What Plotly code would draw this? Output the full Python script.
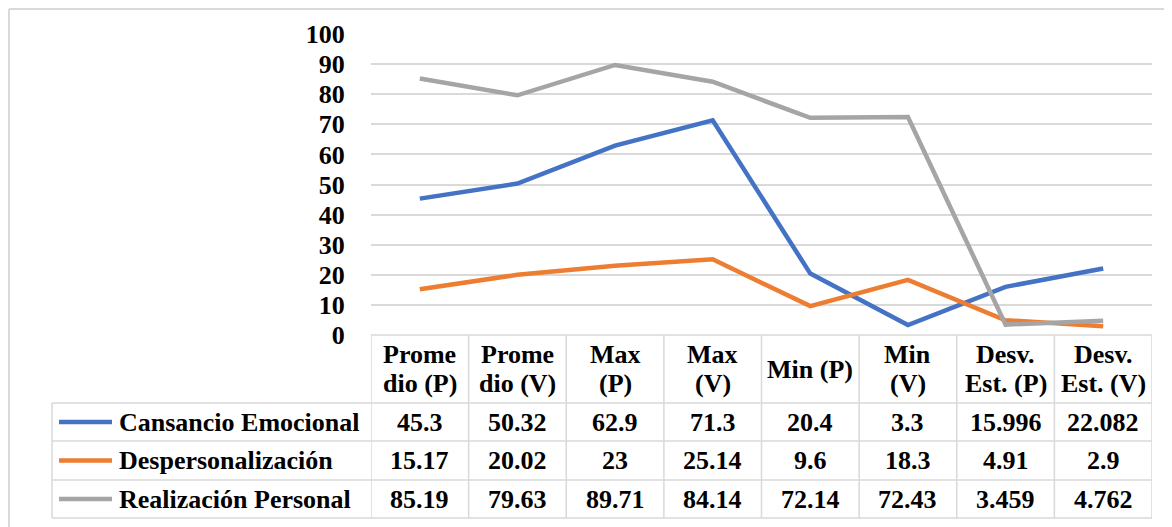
import plotly.graph_objects as go

categories = ["Promedio (P)", "Promedio (V)", "Max (P)", "Max (V)",
              "Min (P)", "Min (V)", "Desv. Est. (P)", "Desv. Est. (V)"]
header_labels = ["Prome\ndio (P)", "Prome\ndio (V)", "Max\n(P)", "Max\n(V)",
                 "Min (P)", "Min\n(V)", "Desv.\nEst. (P)", "Desv.\nEst. (V)"]
series_names = ["Cansancio Emocional", "Despersonalización", "Realización Personal"]
cansancio = [45.3, 50.32, 62.9, 71.3, 20.4, 3.3, 15.996, 22.082]
despers = [15.17, 20.02, 23, 25.14, 9.6, 18.3, 4.91, 2.9]
realizacion = [85.19, 79.63, 89.71, 84.14, 72.14, 72.43, 3.459, 4.762]
colors = ["#4472C4", "#ED7D31", "#A5A5A5"]
y_ticks = list(range(0, 101, 10))

W, H = 1172, 527
OFF = 8  # page body margin offset
FONT = "Liberation Serif, Times New Roman, serif"
GRID = "#D9D9D9"

def px(x):
    return (x - OFF) / W

def py(y):
    return 1 - (y - OFF) / H

x_left, x_right = 371, 1152
y_top, y_zero = 34, 335
leg_left = 52
row_edges = [403, 441, 480, 518]

fig = go.Figure()
idx = list(range(len(categories)))
for name, vals, col in zip(series_names, [cansancio, despers, realizacion], colors):
    fig.add_trace(go.Scatter(x=idx, y=vals, mode="lines", name=name,
                             line=dict(color=col, width=4.5), showlegend=False,
                             hoverinfo="skip"))

shapes = []
annots = []
# outer chart border (top and left)
shapes.append(dict(type="line", xref="paper", yref="paper",
                   x0=px(9), x1=1, y0=py(9), y1=py(9), line=dict(color=GRID, width=2)))
shapes.append(dict(type="line", xref="paper", yref="paper",
                   x0=px(9), x1=px(9), y0=0, y1=py(9), line=dict(color=GRID, width=2)))
# table top line
shapes.append(dict(type="line", xref="paper", yref="paper",
                   x0=px(x_left), x1=px(x_right), y0=py(y_zero), y1=py(y_zero),
                   line=dict(color=GRID, width=1.5)))
for ry in row_edges:
    shapes.append(dict(type="line", xref="paper", yref="paper",
                       x0=px(leg_left), x1=px(x_right), y0=py(ry), y1=py(ry),
                       line=dict(color=GRID, width=1.5)))
for k in range(len(categories) + 1):
    xb = k - 0.5
    shapes.append(dict(type="line", xref="x", yref="paper",
                       x0=xb, x1=xb, y0=py(row_edges[-1]), y1=py(y_zero),
                       line=dict(color=GRID, width=1.5)))
shapes.append(dict(type="line", xref="paper", yref="paper",
                   x0=px(leg_left), x1=px(leg_left), y0=py(row_edges[-1]), y1=py(row_edges[0]),
                   line=dict(color=GRID, width=1.5)))

font = dict(family=FONT, size=26, color="black", weight="bold")

for i, lab in enumerate(header_labels):
    parts = lab.split("\n")
    if len(parts) == 1:
        annots.append(dict(x=i, y=py(369), xref="x", yref="paper", text=parts[0],
                           showarrow=False, font=font, xanchor="center", yanchor="middle"))
    else:
        for part, yy in zip(parts, [354, 383]):
            annots.append(dict(x=i, y=py(yy), xref="x", yref="paper", text=part,
                               showarrow=False, font=font, xanchor="center", yanchor="middle"))

for r, (name, vals, col) in enumerate(zip(series_names, [cansancio, despers, realizacion], colors)):
    yc = (row_edges[r] + row_edges[r + 1]) / 2
    shapes.append(dict(type="line", xref="paper", yref="paper",
                       x0=px(59), x1=px(112), y0=py(yc), y1=py(yc),
                       line=dict(color=col, width=4.5)))
    annots.append(dict(x=px(117), y=py(yc), xref="paper", yref="paper", text=name,
                       showarrow=False, font=font, xanchor="left", yanchor="middle"))
    for i, v in enumerate(vals):
        annots.append(dict(x=i, y=py(yc), xref="x", yref="paper", text=f"{v:g}",
                           showarrow=False, font=font, xanchor="center", yanchor="middle"))

fig.update_layout(
    width=W, height=H, autosize=False,
    margin=dict(l=0, r=0, t=0, b=0, autoexpand=False),
    paper_bgcolor="white", plot_bgcolor="white",
    shapes=shapes, annotations=annots,
    xaxis=dict(domain=[px(x_left), px(x_right)], range=[-0.5, len(categories) - 0.5],
               showgrid=False, zeroline=False, showticklabels=False, showline=False,
               fixedrange=True),
    yaxis=dict(domain=[py(y_zero), py(y_top)], range=[0, 100], tickvals=y_ticks,
               showgrid=True, gridcolor=GRID, gridwidth=1.5, zeroline=False,
               showline=False, ticks="outside", ticklen=20, tickcolor="rgba(0,0,0,0)",
               tickfont=font, fixedrange=True),
)

fig.write_html("out.html")
